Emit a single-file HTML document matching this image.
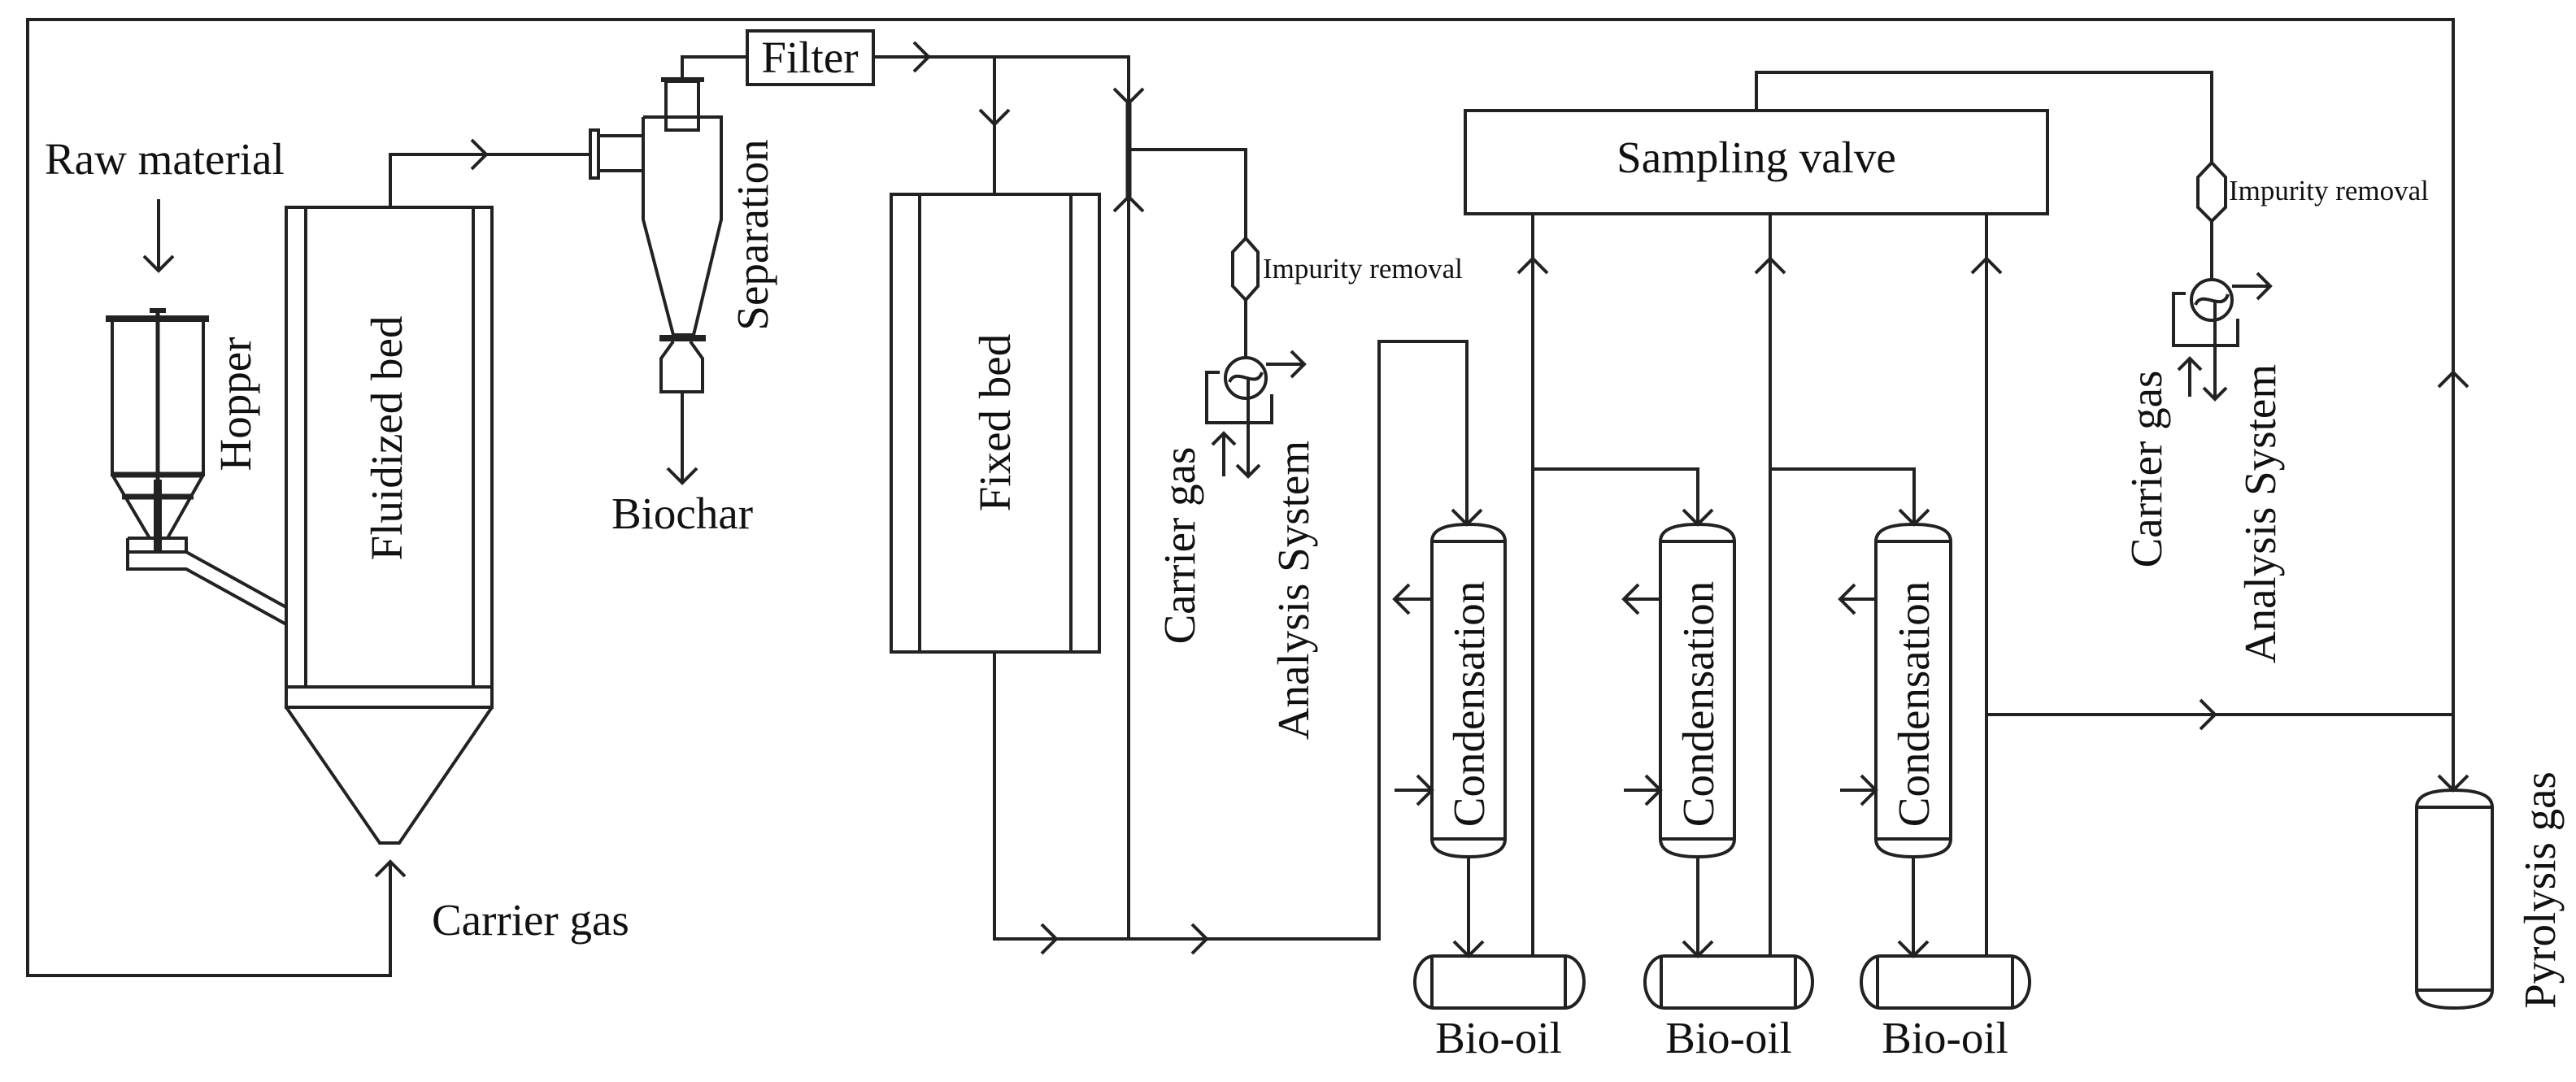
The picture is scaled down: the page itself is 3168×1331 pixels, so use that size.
<!DOCTYPE html>
<html><head><meta charset="utf-8"><style>
html,body{margin:0;padding:0;background:#fff;}
svg{display:block;}
text{font-family:"Liberation Serif",serif;fill:#111;}
</style></head><body>
<svg width="3168" height="1331" viewBox="0 0 3168 1331" xmlns="http://www.w3.org/2000/svg">
<g fill="none" stroke="#222" stroke-width="4" stroke-linejoin="miter">
<!-- outer loop -->
<polyline points="480,1060 480,1200 34,1200 34,24 3017,24 3017,972"/>
<!-- raw material arrow -->
<line x1="195" y1="245" x2="195" y2="333"/>
<!-- hopper -->
<line x1="130" y1="392" x2="257" y2="392" stroke-width="8"/>
<polyline points="138,392 138,584 250,584 250,392"/>
<line x1="138" y1="584" x2="250" y2="584" stroke-width="7"/>
<line x1="150" y1="611" x2="238" y2="611" stroke-width="7"/>
<polyline points="138,584 184,662 206,662 250,584"/>
<line x1="194" y1="380" x2="194" y2="590" stroke-width="5"/>
<line x1="194" y1="590" x2="194" y2="679" stroke-width="10"/>
<line x1="184" y1="382" x2="204" y2="382" stroke-width="6"/>
<polyline points="157,662 229,662 229,679 157,679 157,662"/>
<polyline points="157,679 157,700 229,700 352,768"/>
<polyline points="229,679 352,747"/>
<!-- fluidized bed -->
<rect x="352" y="255" width="253" height="615"/>
<line x1="376" y1="255" x2="376" y2="845"/>
<line x1="582" y1="255" x2="582" y2="845"/>
<line x1="352" y1="845" x2="605" y2="845"/>
<polyline points="352,870 467,1037 491,1037 605,870"/>
<!-- outlet to cyclone -->
<polyline points="480,255 480,190 726,190"/>
<rect x="726" y="160" width="10" height="59"/>
<polyline points="736,167 791,167"/>
<polyline points="736,210 791,210"/>
<!-- cyclone -->
<polyline points="791,144 887,144 887,270 853,412 828,412 791,270 791,144"/>
<rect x="819" y="100" width="40" height="60"/>
<line x1="813" y1="98" x2="866" y2="98" stroke-width="6"/>
<line x1="811" y1="416" x2="868" y2="416" stroke-width="8"/>
<polyline points="828,420 813,441 813,482 864,482 864,441 849,420"/>
<line x1="839" y1="482" x2="839" y2="594"/>
<polyline points="839,98 839,70 919,70"/>
<!-- filter -->
<rect x="919" y="38" width="155" height="66"/>
<polyline points="1074,70 1388,70 1388,1155"/>
<line x1="1388" y1="127" x2="1388" y2="242" stroke-width="7"/>
<line x1="1223" y1="70" x2="1223" y2="239"/>
<!-- fixed bed -->
<rect x="1096" y="239" width="256" height="563"/>
<line x1="1131" y1="239" x2="1131" y2="802"/>
<line x1="1317" y1="239" x2="1317" y2="802"/>
<polyline points="1223,802 1223,1155 1696,1155 1696,420 1804,420 1804,645"/>
<!-- impurity branch 1 -->
<polyline points="1388,184 1532,184 1532,293"/>
<polygon points="1532,293 1547,310 1547,352 1532,369 1516,352 1516,310"/>
<line x1="1532" y1="369" x2="1532" y2="440"/>
<circle cx="1532" cy="465" r="25"/>
<polyline points="1500,458 1484,458 1484,520 1564,520 1564,485"/>
<path d="M1512,470 C1520,450 1545,480 1552,458"/>
<polyline points="1557,448 1604,448"/>
<line x1="1505" y1="586" x2="1505" y2="533"/>
<line x1="1535" y1="465" x2="1535" y2="586"/>
<!-- sampling valve -->
<rect x="1802" y="136" width="716" height="127"/>
<polyline points="2160,136 2160,89 2720,89 2720,200"/>
<polygon points="2720,200 2737,218 2737,255 2720,272 2703,255 2703,218"/>
<line x1="2720" y1="272" x2="2720" y2="345"/>
<circle cx="2720" cy="369" r="25"/>
<polyline points="2688,361 2673,361 2673,425 2752,425 2752,392"/>
<path d="M2700,375 C2708,355 2733,385 2740,362"/>
<polyline points="2745,352 2792,352"/>
<line x1="2693" y1="488" x2="2693" y2="441"/>
<line x1="2724" y1="369" x2="2724" y2="491"/>
<!-- risers -->
<line x1="1885" y1="263" x2="1885" y2="1176"/>
<line x1="2177" y1="263" x2="2177" y2="1176"/>
<line x1="2443" y1="263" x2="2443" y2="1176"/>
<polyline points="1885,577 2088,577 2088,645"/>
<polyline points="2177,577 2354,577 2354,645"/>
<line x1="2443" y1="879" x2="3017" y2="879"/>
<!-- condensers -->
<path d="M1761,666 Q1761,645 1806,645 Q1851,645 1851,666 L1851,1032 Q1851,1054 1806,1054 Q1761,1054 1761,1032 Z"/>
<line x1="1761" y1="666" x2="1851" y2="666"/><line x1="1761" y1="1032" x2="1851" y2="1032"/>
<path d="M2042,666 Q2042,645 2088,645 Q2133,645 2133,666 L2133,1032 Q2133,1054 2088,1054 Q2042,1054 2042,1032 Z"/>
<line x1="2042" y1="666" x2="2133" y2="666"/><line x1="2042" y1="1032" x2="2133" y2="1032"/>
<path d="M2307,666 Q2307,645 2353,645 Q2399,645 2399,666 L2399,1032 Q2399,1054 2353,1054 Q2307,1054 2307,1032 Z"/>
<line x1="2307" y1="666" x2="2399" y2="666"/><line x1="2307" y1="1032" x2="2399" y2="1032"/>
<!-- condenser side lines -->
<line x1="1761" y1="737" x2="1715" y2="737"/><line x1="1715" y1="972" x2="1761" y2="972"/>
<line x1="2042" y1="737" x2="1997" y2="737"/><line x1="1997" y1="972" x2="2042" y2="972"/>
<line x1="2307" y1="737" x2="2263" y2="737"/><line x1="2263" y1="972" x2="2307" y2="972"/>
<!-- condenser to tank -->
<line x1="1806" y1="1054" x2="1806" y2="1176"/>
<line x1="2088" y1="1054" x2="2088" y2="1176"/>
<line x1="2353" y1="1054" x2="2353" y2="1176"/>
<!-- tanks -->
<rect x="1740" y="1176" width="208" height="64" rx="24" ry="32"/>
<line x1="1761" y1="1176" x2="1761" y2="1240"/><line x1="1925" y1="1176" x2="1925" y2="1240"/>
<rect x="2023" y="1176" width="206" height="64" rx="24" ry="32"/>
<line x1="2043" y1="1176" x2="2043" y2="1240"/><line x1="2208" y1="1176" x2="2208" y2="1240"/>
<rect x="2289" y="1176" width="207" height="64" rx="24" ry="32"/>
<line x1="2309" y1="1176" x2="2309" y2="1240"/><line x1="2475" y1="1176" x2="2475" y2="1240"/>
<!-- pyrolysis tank -->
<path d="M2972,993 Q2972,972 3018,972 Q3065,972 3065,993 L3065,1218 Q3065,1240 3018,1240 Q2972,1240 2972,1218 Z"/>
<line x1="2972" y1="993" x2="3065" y2="993"/><line x1="2972" y1="1218" x2="3065" y2="1218"/>
<!-- arrowheads -->
<g stroke-width="4">
<polyline points="177,315 195,333 213,315"/>
<polyline points="462,1078 480,1060 498,1078"/>
<polyline points="580,172 598,190 580,208"/>
<polyline points="821,576 839,594 857,576"/>
<polyline points="1124,52 1142,70 1124,88"/>
<polyline points="1205,135 1223,153 1241,135"/>
<polyline points="1370,109 1388,127 1406,109"/>
<polyline points="1370,260 1388,242 1406,260"/>
<polyline points="1281,1137 1299,1155 1281,1173"/>
<polyline points="1466,1137 1484,1155 1466,1173"/>
<polyline points="1786,627 1804,645 1822,627"/>
<polyline points="2070,627 2088,645 2106,627"/>
<polyline points="2336,627 2354,645 2372,627"/>
<polyline points="1733,719 1715,737 1733,755"/>
<polyline points="2015,719 1997,737 2015,755"/>
<polyline points="2281,719 2263,737 2281,755"/>
<polyline points="1743,954 1761,972 1743,990"/>
<polyline points="2024,954 2042,972 2024,990"/>
<polyline points="2289,954 2307,972 2289,990"/>
<polyline points="1788,1158 1806,1176 1824,1158"/>
<polyline points="2070,1158 2088,1176 2106,1158"/>
<polyline points="2335,1158 2353,1176 2371,1158"/>
<polyline points="1867,336 1885,318 1903,336"/>
<polyline points="2159,336 2177,318 2195,336"/>
<polyline points="2425,336 2443,318 2461,336"/>
<polyline points="2706,861 2724,879 2706,897"/>
<polyline points="2999,476 3017,458 3035,476"/>
<polyline points="2999,954 3017,972 3035,954"/>
<polyline points="1588,432 1604,448 1588,464"/>
<polyline points="2776,336 2792,352 2776,368"/>
<polyline points="1491,547 1505,533 1519,547"/>
<polyline points="2679,455 2693,441 2707,455"/>
<polyline points="1521,572 1535,586 1549,572"/>
<polyline points="2710,477 2724,491 2738,477"/>
</g>
</g>
<!-- text -->
<g font-size="55">
<text x="55" y="214">Raw material</text>
<text x="839" y="650" text-anchor="middle">Biochar</text>
<text x="996" y="89" text-anchor="middle">Filter</text>
<text x="531" y="1150">Carrier gas</text>
<text x="2160" y="212" text-anchor="middle">Sampling valve</text>
<text x="1843" y="1295" text-anchor="middle">Bio-oil</text>
<text x="2126" y="1295" text-anchor="middle">Bio-oil</text>
<text x="2392" y="1295" text-anchor="middle">Bio-oil</text>
<text transform="translate(308,497) rotate(-90)" text-anchor="middle">Hopper</text>
<text transform="translate(494,539) rotate(-90)" text-anchor="middle">Fluidized bed</text>
<text transform="translate(944,289) rotate(-90)" text-anchor="middle">Separation</text>
<text transform="translate(1242,520) rotate(-90)" text-anchor="middle">Fixed bed</text>
<text transform="translate(1469,671) rotate(-90)" text-anchor="middle">Carrier gas</text>
<text transform="translate(1609,726) rotate(-90)" text-anchor="middle">Analysis System</text>
<text transform="translate(1825,866) rotate(-90)" text-anchor="middle">Condensation</text>
<text transform="translate(2107,866) rotate(-90)" text-anchor="middle">Condensation</text>
<text transform="translate(2372,866) rotate(-90)" text-anchor="middle">Condensation</text>
<text transform="translate(2658,577) rotate(-90)" text-anchor="middle">Carrier gas</text>
<text transform="translate(2798,632) rotate(-90)" text-anchor="middle">Analysis System</text>
<text transform="translate(3142,1095) rotate(-90)" text-anchor="middle">Pyrolysis gas</text>
</g>
<g font-size="35">
<text x="1553" y="342">Impurity removal</text>
<text x="2741" y="246">Impurity removal</text>
</g>
</svg>
</body></html>
